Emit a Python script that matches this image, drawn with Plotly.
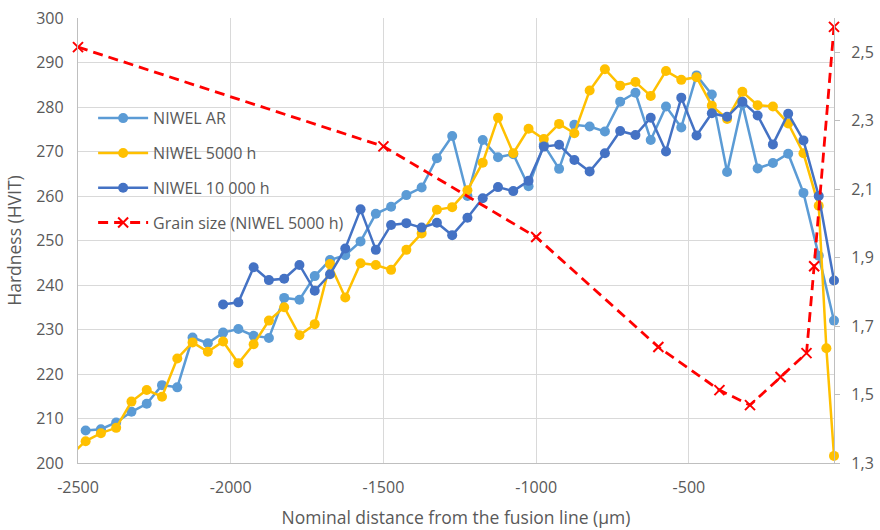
import plotly.graph_objects as go

# ---- data ----
dist = [-2475, -2425, -2375, -2325, -2275, -2225, -2175, -2125, -2075, -2025,
        -1975, -1925, -1875, -1825, -1775, -1725, -1675, -1625, -1575, -1525,
        -1475, -1425, -1375, -1325, -1275, -1225, -1175, -1125, -1075, -1025,
        -975, -925, -875, -825, -775, -725, -675, -625, -575, -525,
        -475, -425, -375, -325, -275, -225, -175, -125, -75, -25]

niwel_ar = [207.3, 207.6, 209.1, 211.5, 213.3, 217.5, 217.0, 228.2, 226.9, 229.3,
            230.1, 228.6, 228.1, 237.1, 236.7, 242.0, 245.6, 246.7, 249.8, 256.0,
            257.6, 260.2, 261.9, 268.5, 273.5, 260.0, 272.6, 268.7, 269.4, 262.2,
            271.5, 266.1, 276.0, 275.6, 274.5, 281.2, 283.2, 272.6, 280.1, 275.4,
            287.1, 282.8, 265.4, 280.7, 266.2, 267.4, 269.5, 260.7, 246.6, 232.0]

h5000_x = [-2475, -2425, -2375, -2325, -2275, -2225, -2175, -2125, -2075, -2025,
           -1975, -1925, -1875, -1825, -1775, -1725, -1675, -1625, -1575, -1525,
           -1475, -1425, -1375, -1325, -1275, -1225, -1175, -1125, -1075, -1025,
           -975, -925, -875, -825, -775, -725, -675, -625, -575, -525,
           -475, -425, -375, -325, -275, -225, -175, -125, -75, -50, -25]
h5000 = [204.9, 206.7, 207.9, 213.8, 216.4, 214.9, 223.5, 227.1, 225.0, 227.3,
         222.4, 226.7, 232.0, 235.0, 228.7, 231.2, 244.7, 237.2, 244.9, 244.5,
         243.4, 247.9, 251.6, 256.9, 257.5, 261.3, 267.5, 277.6, 269.6, 275.1,
         272.8, 276.2, 274.1, 283.7, 288.5, 284.8, 285.6, 282.5, 288.1, 286.1,
         286.7, 280.3, 277.3, 283.4, 280.4, 280.1, 276.3, 269.6, 257.8, 225.8, 201.6]
# first yellow segment enters from beyond the left edge
h5000_lead_x = [-2525, -2475]
h5000_lead = [201.7, 204.9]

h10000_x = [-2025, -1975, -1925, -1875, -1825, -1775, -1725, -1675, -1625, -1575,
            -1525, -1475, -1425, -1375, -1325, -1275, -1225, -1175, -1125, -1075,
            -1025, -975, -925, -875, -825, -775, -725, -675, -625, -575,
            -525, -475, -425, -375, -325, -275, -225, -175, -125, -75, -25]
h10000 = [235.6, 236.1, 244.0, 241.1, 241.4, 244.5, 238.7, 242.4, 248.2, 257.0,
          247.9, 253.5, 253.9, 252.9, 254.0, 251.2, 255.1, 259.5, 262.0, 261.1,
          263.4, 271.1, 271.5, 268.1, 265.5, 269.6, 274.6, 273.7, 277.6, 270.0,
          282.1, 273.6, 278.6, 277.8, 281.2, 278.1, 271.6, 278.5, 272.5, 260.0, 241.0]

grain_x = [-2500, -1500, -1000, -600, -400, -300, -200, -115, -90, -25]
grain = [2.515, 2.225, 1.96, 1.639, 1.513, 1.469, 1.551, 1.621, 1.875, 2.574]

x_tick_vals = [-2500, -2000, -1500, -1000, -500]
x_tick_labels = ["-2500", "-2000", "-1500", "-1000", "-500"]
y2_tick_vals = [1.3, 1.5, 1.7, 1.9, 2.1, 2.3, 2.5]
y2_tick_labels = ["1,3", "1,5", "1,7", "1,9", "2,1", "2,3", "2,5"]

# ---- styles ----
C_AR = "#5B9BD5"
C_5000 = "#FFC000"
C_10000 = "#4472C4"
C_RED = "#FF0000"
TXT = "#595959"
GRID = "#D9D9D9"
AXL = "#BFBFBF"
FONT = "Open Sans"

fig = go.Figure()

fig.add_trace(go.Scatter(x=dist, y=niwel_ar, name="NIWEL AR", mode="lines+markers",
                         line=dict(color=C_AR, width=2.5), marker=dict(size=10, color=C_AR),
                         cliponaxis=False, legendgroup="a"))
fig.add_trace(go.Scatter(x=h5000_lead_x, y=h5000_lead, mode="lines", showlegend=False,
                         line=dict(color=C_5000, width=2.5), hoverinfo="skip", legendgroup="b"))
fig.add_trace(go.Scatter(x=h5000_x, y=h5000, name="NIWEL 5000 h", mode="lines+markers",
                         line=dict(color=C_5000, width=2.5), marker=dict(size=10, color=C_5000),
                         cliponaxis=False, legendgroup="b"))
fig.add_trace(go.Scatter(x=h10000_x, y=h10000, name="NIWEL 10 000 h", mode="lines+markers",
                         line=dict(color=C_10000, width=2.5), marker=dict(size=10, color=C_10000),
                         cliponaxis=False, legendgroup="c"))
fig.add_trace(go.Scatter(x=grain_x, y=grain, name="Grain size (NIWEL 5000 h)", mode="lines+markers",
                         yaxis="y2", line=dict(color=C_RED, width=2.8, dash="10px,6px"),
                         marker=dict(symbol="x-thin", size=10, line=dict(color=C_RED, width=2)),
                         cliponaxis=False, legendgroup="d"))

fig.update_layout(
    width=880, height=530,
    margin=dict(l=78, r=46, t=18, b=67, autoexpand=False),
    paper_bgcolor="white", plot_bgcolor="white",
    font=dict(family=FONT, color=TXT, size=16),
    showlegend=True,
    legend=dict(x=0.02, y=0.813, xanchor="left", yanchor="top",
                bgcolor="rgba(0,0,0,0)", font=dict(size=16, color=TXT),
                traceorder="grouped", tracegroupgap=11, itemwidth=50),
    xaxis=dict(range=[-2500, -25], tickvals=x_tick_vals, ticktext=x_tick_labels,
               showgrid=True, gridcolor=GRID, gridwidth=1.3, automargin=False,
               showline=True, linecolor=AXL, linewidth=1.3, ticks="", zeroline=False,
               tickfont=dict(size=16, color=TXT), ticklabelstandoff=10,
               title=dict(text="Nominal distance from the fusion line (µm)",
                          font=dict(size=17.5, color=TXT), standoff=14)),
    yaxis=dict(range=[200, 300], dtick=10, tick0=200, automargin=False,
               showgrid=True, gridcolor=GRID, gridwidth=1.3,
               showline=True, linecolor=AXL, linewidth=1.3, ticks="", zeroline=False,
               tickfont=dict(size=16, color=TXT), ticklabelstandoff=10,
               title=dict(text="Hardness (HVIT)", font=dict(size=17.5, color=TXT), standoff=10)),
    yaxis2=dict(range=[1.3, 2.6], overlaying="y", side="right", automargin=False,
                tickvals=y2_tick_vals, ticktext=y2_tick_labels,
                showgrid=False, showline=True, linecolor=AXL, linewidth=1.3,
                ticks="outside", ticklen=5, tickcolor=AXL, zeroline=False,
                tickfont=dict(size=16, color=TXT), ticklabelstandoff=8),
)

fig.write_html("out.html")
